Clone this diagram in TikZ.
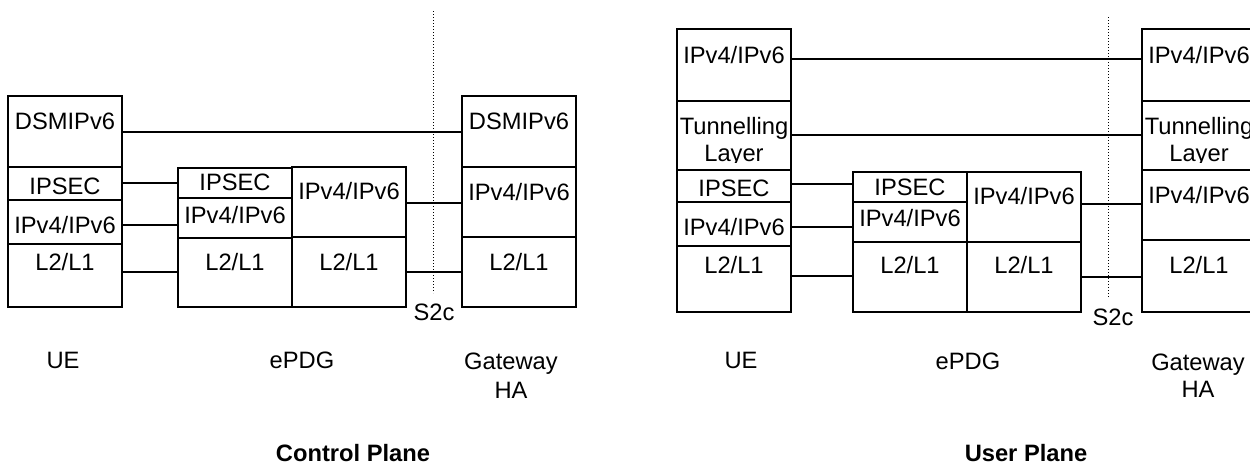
\documentclass[tikz,border=0pt]{standalone}
\usepackage{fontspec}
\setmainfont{Liberation Sans}
\newcommand\mysz{\fontsize{23.7}{27}\selectfont}
\begin{document}
\begin{tikzpicture}[x=1pt,y=-1pt,
  box/.style={draw,line width=1.4pt,fill=white,inner sep=0pt,outer sep=0pt,
    minimum width=114pt,anchor=north west},
  lbl/.style={anchor=base,inner sep=0pt,font=\mysz},
  blbl/.style={anchor=base,inner sep=0pt,font=\mysz\bfseries},
  conn/.style={line width=1.2pt},
  sep/.style={line width=1pt,dash pattern=on 1pt off 2pt}]
\useasboundingbox (0,0) rectangle (1250,464);
\clip (0,0) rectangle (1250,464);

% ---------------- Control plane ----------------
\node[box,minimum height=71pt] (cUE1) at (8,96) {};
\node[box,minimum height=33pt] (cUE2) at (8,167) {};
\node[box,minimum height=44pt] (cUE3) at (8,200) {};
\node[box,minimum height=63pt] (cUE4) at (8,244) {};
\node[box,minimum height=30pt] (cPa1) at (178,168) {};
\node[box,minimum height=40pt] (cPa2) at (178,198) {};
\node[box,minimum height=69pt] (cPa3) at (178,238) {};
\node[box,minimum height=70pt] (cPb1) at (292,167) {};
\node[box,minimum height=70pt] (cPb2) at (292,237) {};
\node[box,minimum height=71pt] (cGW1) at (462,96) {};
\node[box,minimum height=70pt] (cGW2) at (462,167) {};
\node[box,minimum height=70pt] (cGW3) at (462,237) {};

\node[lbl] at (cUE1.center |- 0,129) {DSMIPv6};
\node[lbl] at (cUE2.center |- 0,194) {IPSEC};
\node[lbl] at (cUE3.center |- 0,233) {IPv4/IPv6};
\node[lbl] at (cUE4.center |- 0,270) {L2/L1};
\node[lbl] at (cPa1.center |- 0,190) {IPSEC};
\node[lbl] at (cPa2.center |- 0,223) {IPv4/IPv6};
\node[lbl] at (cPa3.center |- 0,270) {L2/L1};
\node[lbl] at (cPb1.center |- 0,199) {IPv4/IPv6};
\node[lbl] at (cPb2.center |- 0,270) {L2/L1};
\node[lbl] at (cGW1.center |- 0,129) {DSMIPv6};
\node[lbl] at (cGW2.center |- 0,200) {IPv4/IPv6};
\node[lbl] at (cGW3.center |- 0,270) {L2/L1};

\draw[conn] (cUE1.east |- 0,132) -- (cGW1.west |- 0,132);
\draw[conn] (cUE2.east |- 0,183) -- (cPa1.west |- 0,183);
\draw[conn] (cUE3.east |- 0,225) -- (cPa2.west |- 0,225);
\draw[conn] (cUE4.east |- 0,272) -- (cPa3.west |- 0,272);
\draw[conn] (cPb1.east |- 0,203) -- (cGW2.west |- 0,203);
\draw[conn] (cPb2.east |- 0,272) -- (cGW3.west |- 0,272);

\coordinate (cS2top) at (433,11);
\coordinate (cS2bot) at (433,293);
\draw[sep] (cS2top) -- (cS2bot);
\node[lbl] (cS2c) at (434,320) {S2c};
\node[lbl] (cUEl) at (63,368) {UE};
\node[lbl] (cPl) at (302,368) {ePDG};
\node[lbl] (cGl) at (511,369) {Gateway};
\node[lbl] (cHAl) at (511,398) {HA};
\node[blbl] (cTitle) at (353,461) {Control Plane};

% ---------------- User plane ----------------
\node[box,minimum height=72pt] (uUE1) at (677,29) {};
\node[box,minimum height=69pt] (uUE2) at (677,101) {};
\node[box,minimum height=32pt] (uUE3) at (677,170) {};
\node[box,minimum height=44pt] (uUE4) at (677,202) {};
\node[box,minimum height=66pt] (uUE5) at (677,246) {};
\node[box,minimum height=30pt] (uPa1) at (853,172) {};
\node[box,minimum height=40pt] (uPa2) at (853,202) {};
\node[box,minimum height=70pt] (uPa3) at (853,242) {};
\node[box,minimum height=70pt] (uPb1) at (967,172) {};
\node[box,minimum height=70pt] (uPb2) at (967,242) {};
\node[box,minimum height=72pt] (uGW1) at (1142,29) {};
\node[box,minimum height=69pt] (uGW2) at (1142,101) {};
\node[box,minimum height=70pt] (uGW3) at (1142,170) {};
\node[box,minimum height=72pt] (uGW4) at (1142,240) {};

\node[lbl] at (uUE1.center |- 0,63) {IPv4/IPv6};
\node[lbl] at (uUE2.center |- 0,134) {Tunnelling};
\begin{scope}
  \clip (uUE2.north west) rectangle (uUE2.east |- 0,162);
  \node[lbl] at (uUE2.center |- 0,161) {Layer};
\end{scope}
\node[lbl] at (uUE3.center |- 0,196) {IPSEC};
\node[lbl] at (uUE4.center |- 0,235) {IPv4/IPv6};
\node[lbl] at (uUE5.center |- 0,273) {L2/L1};
\node[lbl] at (uPa1.center |- 0,195) {IPSEC};
\node[lbl] at (uPa2.center |- 0,226) {IPv4/IPv6};
\node[lbl] at (uPa3.center |- 0,273) {L2/L1};
\node[lbl] at (uPb1.center |- 0,204) {IPv4/IPv6};
\node[lbl] at (uPb2.center |- 0,273) {L2/L1};
\node[lbl] at (uGW1.center |- 0,63) {IPv4/IPv6};
\node[lbl] at (uGW2.center |- 0,134) {Tunnelling};
\begin{scope}
  \clip (uGW2.north west) rectangle (uGW2.east |- 0,162);
  \node[lbl] at (uGW2.center |- 0,161) {Layer};
\end{scope}
\node[lbl] at (uGW3.center |- 0,203) {IPv4/IPv6};
\node[lbl] at (uGW4.center |- 0,273) {L2/L1};

\draw[conn] (uUE1.east |- 0,59) -- (uGW1.west |- 0,59);
\draw[conn] (uUE2.east |- 0,135) -- (uGW2.west |- 0,135);
\draw[conn] (uUE3.east |- 0,184) -- (uPa1.west |- 0,184);
\draw[conn] (uUE4.east |- 0,227) -- (uPa2.west |- 0,227);
\draw[conn] (uUE5.east |- 0,276) -- (uPa3.west |- 0,276);
\draw[conn] (uPb1.east |- 0,204) -- (uGW3.west |- 0,204);
\draw[conn] (uPb2.east |- 0,277) -- (uGW4.west |- 0,277);

\coordinate (uS2top) at (1108,17);
\coordinate (uS2bot) at (1108,298);
\draw[sep] (uS2top) -- (uS2bot);
\node[lbl] (uS2c) at (1113,325) {S2c};
\node[lbl] (uUEl) at (741,368) {UE};
\node[lbl] (uPl) at (968,369) {ePDG};
\node[lbl] (uGl) at (1198,370) {Gateway};
\node[lbl] (uHAl) at (1198,397) {HA};
\node[blbl] (uTitle) at (1026,461) {User Plane};
\end{tikzpicture}
\end{document}
